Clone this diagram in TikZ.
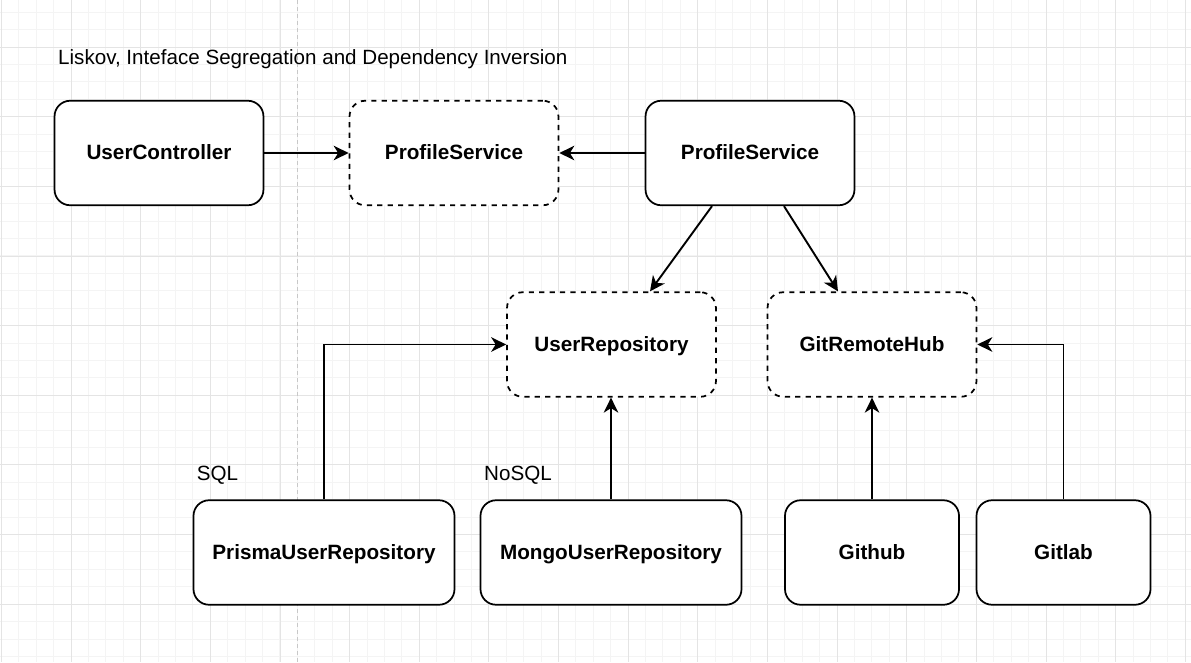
\documentclass[tikz,border=0pt]{standalone}
\usepackage{fontspec}
\setmainfont{Liberation Sans}
\usetikzlibrary{arrows.meta,calc}
\definecolor{gridminor}{RGB}{244,244,244}
\definecolor{gridmajor}{RGB}{228,228,228}
\definecolor{pagebreak}{RGB}{200,200,200}
\tikzset{
  box/.style={draw=black, line width=1.74pt, rounded corners=15.6pt, fill=white,
    minimum width=208.9pt, minimum height=104.5pt, inner sep=0pt,
    text height=16.5pt, text depth=3pt,
    font=\fontsize{20.7}{24}\selectfont\bfseries},
  widebox/.style={box, minimum width=261pt},
  smallbox/.style={box, minimum width=174pt},
  iface/.style={box, dash pattern=on 5.2pt off 5.2pt},
  conn/.style={line width=1.9pt, -{Stealth[length=15pt,width=14.5pt,inset=4.5pt]}},
  lbl/.style={inner sep=0pt, font=\fontsize{20.6}{24}\selectfont}
}
\begin{document}
\begin{tikzpicture}[x=1pt,y=-1pt]
\useasboundingbox (0,0) rectangle (1191,662);
\fill[white] (0,0) rectangle (1191,662);
% grid
\foreach \i in {0,...,68} {
  \draw[gridminor, line width=0.9pt] ({1.35+17.41*\i},0) -- ({1.35+17.41*\i},662);
}
\foreach \j in {0,...,38} {
  \draw[gridminor, line width=0.9pt] (0,{12.2+17.41*(\j-1)}) -- (1191,{12.2+17.41*(\j-1)});
}
\foreach \i in {0,...,17} {
  \draw[gridmajor, line width=0.9pt] ({1.35+69.65*\i},0) -- ({1.35+69.65*\i},662);
}
\foreach \j in {0,...,10} {
  \draw[gridmajor, line width=0.9pt] (0,{-22.65+69.65*\j}) -- (1191,{-22.65+69.65*\j});
}
% page break line
\draw[pagebreak, line width=1pt, dash pattern=on 4pt off 3pt] (297.7,0) -- (297.7,662);

% title and labels
\node[lbl, anchor=base west] (title) at (58,64) {Liskov, Inteface Segregation and Dependency Inversion};
\node[lbl, anchor=base west] (sql) at (196.7,480.7) {SQL};
\node[lbl, anchor=base west] (nosql) at (484,480.7) {NoSQL};

% nodes
\node[box] (uc) at (159,153) {UserController};
\node[iface] (ps1) at (454,153) {ProfileService};
\node[box] (ps2) at (750,153) {ProfileService};
\node[iface] (ur) at (611.5,344.5) {UserRepository};
\node[iface] (grh) at (872,344.5) {GitRemoteHub};
\node[widebox] (prisma) at (324,552.5) {PrismaUserRepository};
\node[widebox] (mongo) at (611,552.5) {MongoUserRepository};
\node[smallbox] (github) at (872,552.5) {Github};
\node[smallbox] (gitlab) at (1063.5,552.5) {Gitlab};

% connectors
\draw[conn] (uc.east) -- (ps1.west);
\draw[conn] (ps2.west) -- (ps1.east);
\draw[conn] ([xshift=-38pt]ps2.south) -- ([xshift=38.5pt]ur.north);
\draw[conn] ([xshift=34pt]ps2.south) -- ([xshift=-34pt]grh.north);
\draw[conn] (prisma.north) |- (ur.west);
\draw[conn] (mongo.north) -- (mongo.north |- ur.south);
\draw[conn] (github.north) -- (grh.south);
\draw[conn] (gitlab.north) |- (grh.east);
\end{tikzpicture}
\end{document}
